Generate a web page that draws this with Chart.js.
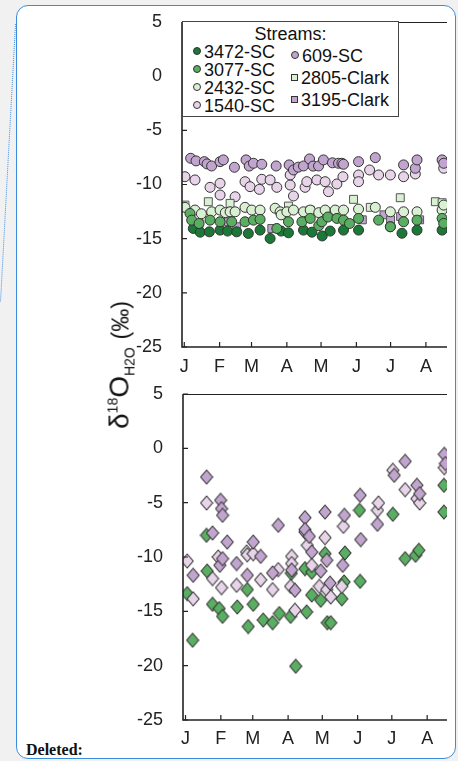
<!DOCTYPE html>
<html>
<head>
<meta charset="utf-8">
<script src="https://cdn.jsdelivr.net/npm/chart.js@4.4.1/dist/chart.umd.min.js"></script>
<style>
  html, body { margin: 0; padding: 0; }
  body { width: 458px; height: 761px; overflow: hidden; background: #f1f1f1; position: relative; font-family: "Liberation Sans", Arial, Helvetica, sans-serif; }
  #box { position: absolute; left: 16px; top: 5px; width: 440px; height: 754px; box-sizing: border-box; border: 1.5px solid #3a8ddc; border-radius: 12px; background: #fff; }
  canvas { position: absolute; }
  #chartTop { left: 135px; top: 12px; }
  #chartBot { left: 136px; top: 384px; }
  #ylab { position: absolute; left: 121px; top: 365px; transform: translate(-50%, -50%) rotate(-90deg); white-space: nowrap; color: #111; font-size: 28px; line-height: 1; }
  #ylab sup { font-size: 14px; vertical-align: 11px; }
  #ylab sub { font-size: 14px; vertical-align: -6px; }
  #ylab .pm { font-size: 23px; }
  #legend { position: absolute; left: 182px; top: 21px; width: 217px; height: 96px; box-sizing: border-box; border: 1px solid #444; background: #fff; font-size: 18px; color: #111; }
  #legend .title { position: absolute; left: 0; right: 0; top: 2px; text-align: center; }
  #legend .item { position: absolute; white-space: nowrap; line-height: 18px; }
  #legend .mk { display: inline-block; box-sizing: border-box; border: 1px solid #333; vertical-align: middle; margin-right: 3px; position: relative; top: -2px; }
  #deleted { position: absolute; left: 26px; top: 741px; font-family: "Liberation Serif", "Times New Roman", serif; font-weight: bold; font-size: 16px; color: #111; }
  #dots { position: absolute; left: 0; top: 0; }
</style>
</head>
<body>
<svg id="dots" width="20" height="320"><line x1="15.5" y1="24" x2="0.5" y2="302" stroke="#4a90d9" stroke-width="1" stroke-dasharray="1,1"/></svg>
<div id="box"></div>
<canvas id="chartTop" width="312" height="363"></canvas>
<canvas id="chartBot" width="311" height="366"></canvas>
<div id="ylab">δ<sup>18</sup>O<sub>H2O</sub> <span class="pm">(‰)</span></div>
<div id="legend">
  <div class="title">Streams:</div>
  <div class="item" style="left:10px; top:21px"><span class="mk" style="width:8px;height:8px;border-radius:50%;background:#1b7837"></span>3472-SC</div>
  <div class="item" style="left:10px; top:39px"><span class="mk" style="width:8px;height:8px;border-radius:50%;background:#5aae61"></span>3077-SC</div>
  <div class="item" style="left:10px; top:57px"><span class="mk" style="width:8px;height:8px;border-radius:50%;background:#d9f0d3"></span>2432-SC</div>
  <div class="item" style="left:10px; top:75px"><span class="mk" style="width:8px;height:8px;border-radius:50%;background:#e7d4e8"></span>1540-SC</div>
  <div class="item" style="left:108px; top:25px"><span class="mk" style="width:8px;height:8px;border-radius:50%;background:#c2a5cf"></span>609-SC</div>
  <div class="item" style="left:108px; top:47px"><span class="mk" style="width:7px;height:7px;background:#d9f0d3"></span>2805-Clark</div>
  <div class="item" style="left:108px; top:69px"><span class="mk" style="width:7px;height:7px;background:#c2a5cf"></span>3195-Clark</div>
</div>
<div id="deleted">Deleted:</div>

<script>
// ---- axes ----
const monthDays = [0, 31, 59, 90, 120, 151, 181, 212];
const monthLabels = ['J', 'F', 'M', 'A', 'M', 'J', 'J', 'A'];
const yTicks = [-25, -20, -15, -10, -5, 0, 5];

// ---- top panel: streams (day of year, d18O) ----
const days3472 = [7.9, 14, 22, 31.4, 38, 46, 56.2, 66.5, 75.3, 85, 91.4, 104.6, 112, 121, 128, 139.7, 152.9, 180.8, 191, 204.2, 226.2];
const vals3472 = [-14.06, -14.4, -14.37, -14.21, -14.3, -14.37, -14.52, -14.21, -14.98, -14.3, -14.46, -14.21, -14.4, -14.75, -14.3, -14.21, -14.21, -13.9, -14.5, -14.21, -14.21];

const days3077 = [5, 6.5, 13, 22.6, 31.4, 41.6, 53.3, 60.7, 66.5, 81.2, 91.4, 103.2, 110.5, 118, 120.7, 126, 133.9, 139.7, 145, 152.9, 170.5, 180.8, 192.4, 204.2, 226.2, 227.6];
const vals3077 = [-12.67, -13.29, -13.6, -13.29, -13.44, -13.44, -13.44, -13.29, -13.22, -14.06, -13.44, -13.44, -13.13, -13.8, -13.44, -13.0, -13.13, -13.29, -13.6, -13.13, -13.29, -13.9, -13.44, -13.29, -13.13, -13.59];

const days2432 = [0.6, 9.4, 15, 24, 31.4, 36, 40.2, 44.6, 53.3, 59.2, 66.5, 79.7, 84.1, 85, 90, 95.8, 104.6, 110.5, 118, 123.6, 132.4, 139.7, 152.9, 167.6, 180.8, 192.4, 204.2, 226.2, 227.6];
const vals2432 = [-12.11, -12.36, -12.7, -12.52, -12.36, -12.6, -12.52, -12.52, -12.11, -12.36, -12.36, -12.19, -12.52, -12.8, -12.52, -12.36, -12.52, -12.36, -12.6, -12.36, -12.36, -12.36, -12.27, -12.11, -12.52, -12.52, -12.52, -12.36, -11.9];

const days1540 = [0.6, 9.4, 22.6, 31.4, 31.4, 44.6, 53.3, 57.7, 65.9, 68, 75.3, 81.2, 92.9, 92.9, 95.8, 106, 107.5, 116.3, 123.6, 126.5, 133.9, 139.2, 152.9, 152.9, 162.6, 170.5, 180.8, 192.4, 202.7, 227.6];
const vals1540 = [-9.28, -9.58, -10.26, -9.89, -10.97, -11.13, -9.74, -10.2, -10.45, -9.52, -9.58, -10.26, -9.12, -10.05, -11.06, -10.26, -9.74, -9.58, -9.74, -10.66, -9.95, -9.28, -9.12, -9.74, -8.66, -9.12, -9.12, -9.28, -9.03, -8.5];

const days609 = [5.6, 10.3, 17.6, 20, 24, 31.4, 34.3, 44, 54.2, 57, 60.7, 68, 80.6, 92, 95.8, 100, 104.6, 109.9, 113, 117.8, 122.1, 130, 135.3, 138.3, 139.7, 152.9, 167.6, 192.4, 202.7, 204.2, 226.2, 227.6];
const vals609 = [-7.58, -7.82, -7.89, -8.1, -8.29, -7.89, -7.73, -8.41, -7.73, -8.3, -8.04, -8.13, -8.29, -8.19, -8.66, -8.4, -8.29, -7.64, -8.3, -8.29, -7.73, -8.0, -8.04, -8.04, -8.13, -7.89, -7.52, -8.19, -8.5, -7.73, -7.73, -8.04];

const days2805 = [0.6, 21.1, 40.2, 91.4, 110.5, 148.5, 163.2, 189.5, 220.3, 226.2];
const vals2805 = [-11.9, -11.59, -11.74, -11.99, -12.36, -11.37, -12.11, -11.22, -11.59, -11.68];

const days3195 = [13, 38.7, 46, 76.8, 156.2, 175.2, 181, 189.8, 206.5];
const vals3195 = [-13.6, -13.44, -13.9, -14.06, -13.26, -12.8, -13.26, -12.95, -13.26];

// ---- bottom panel: diamonds ----
const daysGreen = [1.5, 6.2, 18.4, 19, 23.7, 29.6, 32.5, 45.4, 54.2, 55, 59.4, 68.2, 76.4, 82.3, 92.2, 92.8, 96.7, 104.8, 106.3, 110.7, 110.7, 118.6, 122.4, 124.4, 127.4, 137.1, 139.1, 139.9, 152.6, 153.2, 181.9, 192.7, 201.8, 204.7, 226.7, 226.7];
const valsGreen = [-13.37, -17.66, -8.0, -11.29, -14.35, -14.75, -15.46, -14.6, -13.0, -16.4, -14.35, -15.8, -16.05, -15.2, -15.46, -11.5, -20.05, -11.07, -15.05, -11.4, -13.5, -13.98, -9.69, -16.05, -16.05, -13.85, -12.3, -9.63, -5.7, -12.24, -6.07, -10.15, -9.84, -9.38, -3.4, -5.86];

const daysPurple = [6.7, 18.5, 23.7, 30.1, 30.8, 31.6, 32.5, 32.5, 36.6, 44.8, 54.2, 59.4, 65.9, 76.4, 81.4, 93.1, 96, 104.8, 104.8, 108.6, 110.7, 118.6, 122.4, 123.9, 126.8, 137.9, 139.4, 153.2, 153.7, 168.4, 183.1, 192.7, 203, 205.4, 227, 228];
const valsPurple = [-11.68, -2.64, -7.79, -10.76, -4.78, -5.55, -6.16, -10.15, -8.62, -10.6, -11.68, -8.62, -9.94, -11.47, -7.08, -11.2, -13.06, -6.38, -7.48, -8.1, -9.54, -11.29, -5.86, -10.3, -12.4, -10.76, -6.16, -4.32, -8.4, -6.99, -2.48, -1.2, -3.4, -4.17, -0.55, -1.4];

const daysPink = [1.5, 6.7, 18.5, 23.7, 28.7, 31.6, 44.8, 53.6, 54.2, 59.4, 65.9, 76.4, 81.4, 92.2, 93.1, 93.1, 96, 104.8, 106.9, 110.7, 117.4, 122.4, 123.9, 127.4, 137.1, 138.5, 168.4, 169.3, 181.9, 192.7, 203, 205.4, 227];
const valsPink = [-10.37, -13.85, -5.03, -11.99, -10.0, -12.82, -12.6, -9.54, -9.8, -9.7, -12.1, -13.0, -11.16, -12.7, -9.94, -10.6, -14.9, -7.7, -8.92, -10.76, -12.7, -8.22, -13.0, -13.68, -12.7, -7.18, -5.7, -5.03, -2.02, -3.8, -4.63, -5.03, -1.78];

const FONT = { family: '"Liberation Sans", Arial, Helvetica, sans-serif', size: 18 };
const INK = '#222';

function pts(days, vals) {
  return days.map((d, i) => ({ x: d, y: vals[i] }));
}

function diamond(fill) {
  const c = document.createElement('canvas');
  c.width = 14; c.height = 16;
  const g = c.getContext('2d');
  g.beginPath();
  g.moveTo(7, 1); g.lineTo(13, 8); g.lineTo(7, 15); g.lineTo(1, 8);
  g.closePath();
  g.fillStyle = fill; g.fill();
  g.strokeStyle = '#333'; g.lineWidth = 1.1; g.stroke();
  return c;
}

// axis lines + inward tick marks
const frame = {
  id: 'frame',
  afterDraw(chart) {
    const { ctx, chartArea: a, scales } = chart;
    ctx.save();
    ctx.strokeStyle = INK;
    ctx.lineWidth = 1;
    ctx.beginPath();
    ctx.moveTo(a.left, a.top + 0.5); ctx.lineTo(a.right, a.top + 0.5);
    ctx.stroke();
    ctx.lineWidth = 1.6;
    ctx.beginPath();
    ctx.moveTo(a.left, a.top); ctx.lineTo(a.left, a.bottom); ctx.lineTo(a.right, a.bottom);
    ctx.stroke();
    ctx.lineWidth = 1.2;
    ctx.beginPath();
    scales.y.ticks.forEach(t => {
      const y = scales.y.getPixelForValue(t.value);
      ctx.moveTo(a.left, y); ctx.lineTo(a.left + 5, y);
    });
    scales.x.ticks.forEach(t => {
      const x = scales.x.getPixelForValue(t.value);
      ctx.moveTo(x, a.bottom); ctx.lineTo(x, a.bottom - 5);
    });
    ctx.stroke();
    ctx.restore();
  }
};

function makeChart(id, datasets, xmin, xmax, xh, xpad) {
  return new Chart(document.getElementById(id), {
    type: 'scatter',
    data: { datasets },
    options: {
      responsive: false,
      animation: false,
      devicePixelRatio: 1,
      layout: { autoPadding: false, padding: { top: 10, right: 0, left: 0, bottom: 0 } },
      plugins: { legend: { display: false }, tooltip: { enabled: false } },
      scales: {
        x: {
          type: 'linear', min: xmin, max: xmax,
          grid: { display: false }, border: { display: false },
          afterBuildTicks: s => { s.ticks = monthDays.map(v => ({ value: v })); },
          afterFit: s => { s.height = xh; s.paddingLeft = 0; s.paddingRight = 0; },
          ticks: { autoSkip: false, maxRotation: 0, padding: xpad, color: INK, font: FONT,
                   callback: (v, i) => monthLabels[i] }
        },
        y: {
          type: 'linear', min: -25, max: 5,
          grid: { display: false }, border: { display: false },
          afterBuildTicks: s => { s.ticks = yTicks.map(v => ({ value: v })); },
          afterFit: s => { s.width = 47; s.paddingTop = 0; s.paddingBottom = 0; },
          ticks: { padding: 12, color: INK, font: FONT }
        }
      }
    },
    plugins: [frame]
  });
}

function circles(label, days, vals, color, order) {
  return { label, data: pts(days, vals), order, pointStyle: 'circle', pointRadius: 5,
           backgroundColor: color, borderColor: '#333', borderWidth: 1 };
}
function squares(label, days, vals, color, order) {
  return { label, data: pts(days, vals), order, pointStyle: 'rect', pointRadius: 5.6,
           backgroundColor: color, borderColor: '#555', borderWidth: 1 };
}

makeChart('chartTop', [
  circles('3077-SC', days3077, vals3077, '#5aae61', 1),
  circles('3472-SC', days3472, vals3472, '#1b7837', 2),
  circles('2432-SC', days2432, vals2432, '#d9f0d3', 3),
  squares('2805-Clark', days2805, vals2805, '#d9f0d3', 4),
  squares('3195-Clark', days3195, vals3195, '#c2a5cf', 5),
  circles('609-SC', days609, vals609, '#c2a5cf', 6),
  circles('1540-SC', days1540, vals1540, '#e7d4e8', 7)
], -2, 230.5, 28, 1);

makeChart('chartBot', [
  { label: 'purple', data: pts(daysPurple, valsPurple), order: 1, pointStyle: diamond('#c2a5cf') },
  { label: 'pink', data: pts(daysPink, valsPink), order: 2, pointStyle: diamond('#e7d4e8') },
  { label: 'green', data: pts(daysGreen, valsGreen), order: 3, pointStyle: diamond('#5aae61') }
], -2.2, 229.4, 30, 0);
</script>
</body>
</html>
